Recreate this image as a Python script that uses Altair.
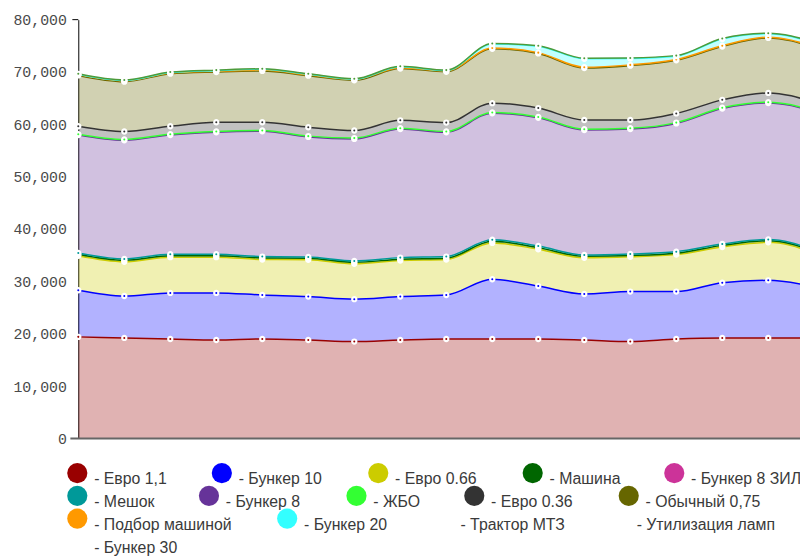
import altair as alt
import pandas as pd

# ---------------- data ----------------
x_index = list(range(17))

series_names = ["Евро 1,1", "Бункер 10", "Евро 0.66", "Машина", "Бункер 8 ЗИЛ",
                "Мешок", "Бункер 8", "ЖБО", "Евро 0.36", "Обычный 0,75",
                "Подбор машиной", "Бункер 20", "Трактор МТЗ", "Утилизация ламп", "Бункер 30"]

evro11 = [19400, 19200, 19000, 18800, 19000, 18800, 18500, 18800, 19000, 19000, 19000, 18800, 18500, 19000, 19200, 19200, 19200]
bunker10 = [8900, 8000, 8800, 9000, 8400, 8300, 8100, 8300, 8400, 11400, 10100, 8800, 9550, 9050, 10550, 11000, 9800]
evro066 = [6580, 6540, 6830, 6830, 6790, 7020, 6760, 6890, 6790, 6950, 7050, 6900, 6640, 7080, 6830, 7260, 6450]
mashina = [300, 300, 250, 250, 300, 300, 300, 250, 250, 300, 300, 300, 250, 250, 300, 300, 300]
bunker8zil = [0, 0, 0, 0, 0, 0, 0, 0, 0, 0, 0, 0, 0, 0, 0, 0, 0]
meshok = [250, 250, 300, 300, 250, 250, 250, 300, 300, 300, 300, 250, 300, 300, 250, 250, 250]
bunker8 = [22540, 22680, 22790, 23300, 23930, 22930, 23310, 24570, 23740, 24180, 24500, 23870, 23870, 24500, 25890, 26080, 26450]
zhbo = [150, 150, 150, 150, 150, 150, 150, 150, 150, 150, 150, 150, 150, 150, 150, 150, 150]
evro036 = [1520, 1510, 1520, 1760, 1570, 1700, 1450, 1510, 1700, 1770, 1710, 1760, 1570, 1760, 1510, 1770, 1600]
obych075 = [9710, 9530, 10040, 9620, 9820, 9850, 9590, 9890, 9730, 10380, 10440, 9940, 10380, 10140, 10190, 10500, 10500]
podbor = [150, 150, 150, 150, 150, 150, 150, 150, 150, 150, 150, 150, 150, 150, 150, 150, 150]
bunker20 = [50, 50, 50, 100, 150, 100, 50, 200, 50, 780, 1220, 1610, 1230, 650, 1290, 650, 760]
traktor = [100, 100, 100, 100, 100, 100, 100, 100, 100, 100, 100, 100, 100, 100, 100, 100, 100]
utilizacia = [0, 0, 0, 0, 0, 0, 0, 0, 0, 0, 0, 0, 0, 0, 0, 0, 0]
bunker30 = [0, 0, 0, 0, 0, 0, 0, 0, 0, 0, 0, 0, 0, 0, 0, 0, 0]

series_values = [evro11, bunker10, evro066, mashina, bunker8zil, meshok, bunker8, zhbo,
                 evro036, obych075, podbor, bunker20, traktor, utilizacia, bunker30]

y_ticks = [0, 10000, 20000, 30000, 40000, 50000, 60000, 70000, 80000]

# ---------------- styles / layout ----------------
series_colors = ["#990000", "#0000ff", "#cccc00", "#006600", "#cc3399",
                 "#009999", "#663399", "#33ff33", "#333333", "#666600",
                 "#ff9900", "#33ffff", "#4e9a3a", "#4e9a3a", "#4e9a3a"]
legend_has_symbol = [True] * 12 + [False] * 3
legend_row = [0, 0, 0, 0, 0, 1, 1, 1, 1, 1, 2, 2, 2, 2, 3]
legend_text_x = [16, 162, 320, 476, 619, 16, 149, 298, 417, 573, 16, 228, 386, 564, 16]
ROW_CIRCLE_Y0 = 458
ROW_STEP = 23
TEXT_DY = 11.5
SYMBOL_DX = 17

PLOT_W = 729
PLOT_H = 423
X_MAX = 15.69

# ---------------- build tables ----------------
rows = []
cum = [0] * len(x_index)
for k, (name, vals) in enumerate(zip(series_names, series_values)):
    for i, v in enumerate(vals):
        bottom = cum[i]
        top = bottom + v
        if sum(vals) > 0:
            rows.append({"i": x_index[i], "series": name, "k": k,
                         "bottom": bottom, "top": top})
        cum[i] = top
df = pd.DataFrame(rows)

leg_rows = []
for k, name in enumerate(series_names):
    r = legend_row[k]
    leg_rows.append({
        "label": "- " + name,
        "color": series_colors[k],
        "sym": legend_has_symbol[k],
        "tx": legend_text_x[k],
        "cx": legend_text_x[k] - SYMBOL_DX,
        "cy": ROW_CIRCLE_Y0 + r * ROW_STEP,
        "ty": ROW_CIRCLE_Y0 + r * ROW_STEP + TEXT_DY,
    })
leg = pd.DataFrame(leg_rows)

drawn = [n for n, v in zip(series_names, series_values) if sum(v) > 0]
drawn_colors = [c for c, v in zip(series_colors, series_values) if sum(v) > 0]

xs = alt.Scale(domain=[0, X_MAX], nice=False, zero=False)
ys = alt.Scale(domain=[0, 80000], nice=False)
color = alt.Color("series:N", scale=alt.Scale(domain=drawn, range=drawn_colors), legend=None)

base = alt.Chart(df)

areas = base.mark_area(interpolate="monotone", opacity=0.3, clip=True).encode(
    x=alt.X("i:Q", scale=xs, axis=None),
    y=alt.Y("top:Q", scale=ys, axis=alt.Axis(
        values=y_ticks, labelExpr="format(datum.value, ',')", ticks=False, tickSize=0, grid=False,
        labelPadding=12, labelFont="Liberation Mono", labelFontSize=15,
        labelColor="#4a4a4a", domainColor="#000000", domainWidth=1, title=None)),
    y2="bottom:Q",
    color=color,
    detail="series:N",
)

lines = base.mark_line(interpolate="monotone", strokeWidth=1.5, clip=True).encode(
    x=alt.X("i:Q", scale=xs),
    y=alt.Y("top:Q", scale=ys),
    color=color,
    detail="series:N",
    order="i:Q",
)

points = base.mark_point(filled=True, size=18, stroke="white", strokeWidth=2.2,
                         opacity=1, strokeOpacity=1).encode(
    x=alt.X("i:Q", scale=xs),
    y=alt.Y("top:Q", scale=ys),
    fill=alt.Fill("series:N", scale=alt.Scale(domain=drawn, range=drawn_colors), legend=None),
    order="k:Q",
)

one = alt.Data(values=[{}])
x_axis_line = alt.Chart(one).mark_rule(color="#666666", strokeWidth=2).encode(
    y=alt.datum(0), x=alt.value(-8), x2=alt.value(PLOT_W + 20))
top_tick = alt.Chart(one).mark_rule(color="#000000", strokeWidth=1).encode(
    y=alt.datum(80000), x=alt.value(-6), x2=alt.value(0))

main = alt.layer(areas, lines, points, x_axis_line, top_tick)

leg_circles = alt.Chart(leg).transform_filter("datum.sym").mark_circle(size=415, opacity=1).encode(
    x=alt.X("cx:Q", scale=None, axis=None),
    y=alt.Y("cy:Q", scale=None, axis=None),
    color=alt.Color("color:N", scale=None, legend=None),
)
leg_text = alt.Chart(leg).mark_text(align="left", baseline="alphabetic",
                                    font="Liberation Sans", fontSize=16,
                                    color="#3a3a3a").encode(
    x=alt.X("tx:Q", scale=None, axis=None),
    y=alt.Y("ty:Q", scale=None, axis=None),
    text="label:N",
)
legend = alt.layer(leg_circles, leg_text)

chart = alt.layer(main, legend).resolve_scale(x="independent", y="independent", color="independent").properties(
    width=PLOT_W, height=PLOT_H,
    autosize=alt.AutoSizeParams(type="none"),
    padding={"left": 71, "top": 9, "right": 0, "bottom": 117},
).configure_view(stroke=None)

chart.save("out.html", embed_options={"renderer": "svg", "actions": False})
